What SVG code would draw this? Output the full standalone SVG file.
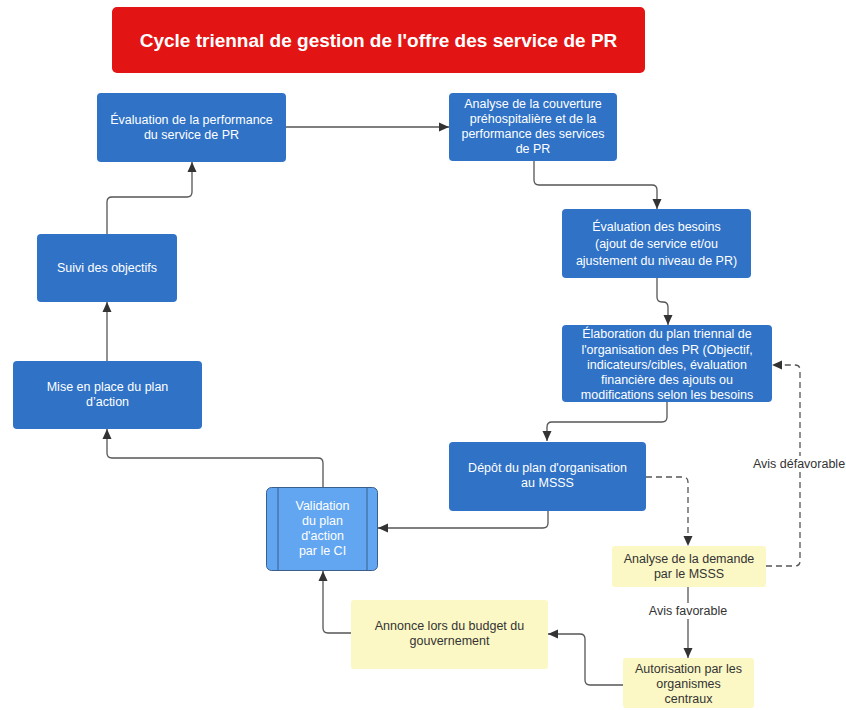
<svg xmlns="http://www.w3.org/2000/svg" width="846" height="710" viewBox="0 0 846 710">
<defs>
<marker id="ah" markerUnits="userSpaceOnUse" markerWidth="10" markerHeight="10" viewBox="0 0 10 10" refX="10" refY="5" orient="auto">
<path d="M0,0.5 L10,5 L0,9.5 z" fill="#333"/>
</marker>
<style>
.blue{fill:#2f72c6}
.lblue{fill:#62a6f2;stroke:#3a5f8c;stroke-width:1}
.yel{fill:#fcf8c5}
.t{font-family:"Liberation Sans",Arial,sans-serif;font-size:12.5px;text-anchor:middle}
.w{fill:#ffffff}
.d{fill:#333333}
.c{fill:none;stroke:#555;stroke-width:1.3;marker-end:url(#ah)}
.dash{stroke-dasharray:6,4}
.lbl{font-family:"Liberation Sans",Arial,sans-serif;font-size:12.5px;fill:#333;text-anchor:middle}
</style>
</defs>
<rect width="846" height="710" fill="#ffffff"/>

<g id="title">
<rect x="112" y="7" width="533" height="66" rx="5" fill="#e31414"/>
<text x="378.5" y="47" font-family="Liberation Sans,Arial,sans-serif" font-size="19" font-weight="bold" fill="#fff" text-anchor="middle">Cycle triennal de gestion de l'offre des service de PR</text>
</g>

<g id="connectors">
<path class="c" d="M286,127 H449"/>
<path class="c" d="M534,161 V180 Q534,185 539,185 H652 Q657,185 657,190 V209"/>
<path class="c" d="M657,278 V297 Q657,302 662,302 H663 Q668,302 668,307 V325"/>
<path class="c" d="M667,402 V417 Q667,422 662,422 H552 Q547,422 547,427 V441"/>
<path class="c" d="M548,511 V523 Q548,528 543,528 H378"/>
<path class="c dash" d="M646,477 H683 Q688,477 688,482 V546"/>
<path class="c dash" d="M766,566 H795 Q800,566 800,561 V370 Q800,365 795,365 H772"/>
<path class="c" d="M688,587 V658"/>
<path class="c" d="M623,685 H590 Q585,685 585,680 V639 Q585,634 580,634 H548"/>
<path class="c" d="M351,633 H328 Q323,633 323,628 V571"/>
<path class="c" d="M323,487 V463 Q323,458 318,458 H112 Q107,458 107,453 V429"/>
<path class="c" d="M107,361 V302"/>
<path class="c" d="M107,234 V202 Q107,197 112,197 H187 Q192,197 192,192 V162"/>
<rect x="752" y="456" width="94" height="16" fill="#fff"/>
<text class="lbl" x="799" y="468">Avis défavorable</text>
<rect x="645" y="603" width="86" height="16" fill="#fff"/>
<text class="lbl" x="688" y="615">Avis favorable</text>
</g>

<g id="eval-perf">
<rect class="blue" x="97" y="93" width="189" height="69" rx="4"/>
<text class="t w" x="191.5" y="124">Évaluation de la performance</text>
<text class="t w" x="191.5" y="139">du service de PR</text>
</g>

<g id="analyse-couverture">
<rect class="blue" x="449" y="93" width="168" height="68" rx="4"/>
<text class="t w" x="533" y="108">Analyse de la couverture</text>
<text class="t w" x="533" y="123">préhospitalière et de la</text>
<text class="t w" x="533" y="138">performance des services</text>
<text class="t w" x="533" y="153">de PR</text>
</g>

<g id="eval-besoins">
<rect class="blue" x="562" y="209" width="189" height="69" rx="4"/>
<text class="t w" x="656.5" y="231" font-size="13">Évaluation des besoins</text>
<text class="t w" x="656.5" y="248" font-size="13">(ajout de service et/ou</text>
<text class="t w" x="656.5" y="265" font-size="13">ajustement du niveau de PR)</text>
</g>

<g id="elaboration">
<rect class="blue" x="562" y="325" width="210" height="77" rx="4"/>
<text class="t w" x="667" y="338">Élaboration du plan triennal de</text>
<text class="t w" x="667" y="354">l'organisation des PR (Objectif,</text>
<text class="t w" x="667" y="369">indicateurs/cibles, évaluation</text>
<text class="t w" x="667" y="384">financière des ajouts ou</text>
<text class="t w" x="667" y="399">modifications selon les besoins</text>
</g>

<g id="depot">
<rect class="blue" x="449" y="442" width="197" height="69" rx="4"/>
<text class="t w" x="547.5" y="472">Dépôt du plan d'organisation</text>
<text class="t w" x="547.5" y="487">au MSSS</text>
</g>

<g id="validation">
<rect class="lblue" x="266.5" y="487.5" width="111" height="83" rx="5"/>
<line x1="278" y1="488" x2="278" y2="570" stroke="#3a5f8c" stroke-width="1"/>
<line x1="367" y1="488" x2="367" y2="570" stroke="#3a5f8c" stroke-width="1"/>
<text class="t w" x="322.5" y="510">Validation</text>
<text class="t w" x="322.5" y="525">du plan</text>
<text class="t w" x="322.5" y="540">d'action</text>
<text class="t w" x="322.5" y="555">par le CI</text>
</g>

<g id="mise-en-place">
<rect class="blue" x="13" y="361" width="189" height="68" rx="4"/>
<text class="t w" x="107.5" y="391">Mise en place du plan</text>
<text class="t w" x="107.5" y="406">d’action</text>
</g>

<g id="suivi">
<rect class="blue" x="37" y="234" width="140" height="68" rx="4"/>
<text class="t w" x="107" y="272">Suivi des objectifs</text>
</g>

<g id="analyse-demande">
<rect class="yel" x="612" y="546" width="154" height="41" rx="3"/>
<text class="t d" x="689" y="563">Analyse de la demande</text>
<text class="t d" x="689" y="578">par le MSSS</text>
</g>

<g id="autorisation">
<rect class="yel" x="623" y="658" width="131" height="50" rx="3"/>
<text class="t d" x="688.5" y="673">Autorisation par les</text>
<text class="t d" x="688.5" y="688">organismes</text>
<text class="t d" x="688.5" y="703">centraux</text>
</g>

<g id="annonce">
<rect class="yel" x="351" y="600" width="197" height="69" rx="3"/>
<text class="t d" x="449.5" y="630">Annonce lors du budget du</text>
<text class="t d" x="449.5" y="645">gouvernement</text>
</g>
</svg>
